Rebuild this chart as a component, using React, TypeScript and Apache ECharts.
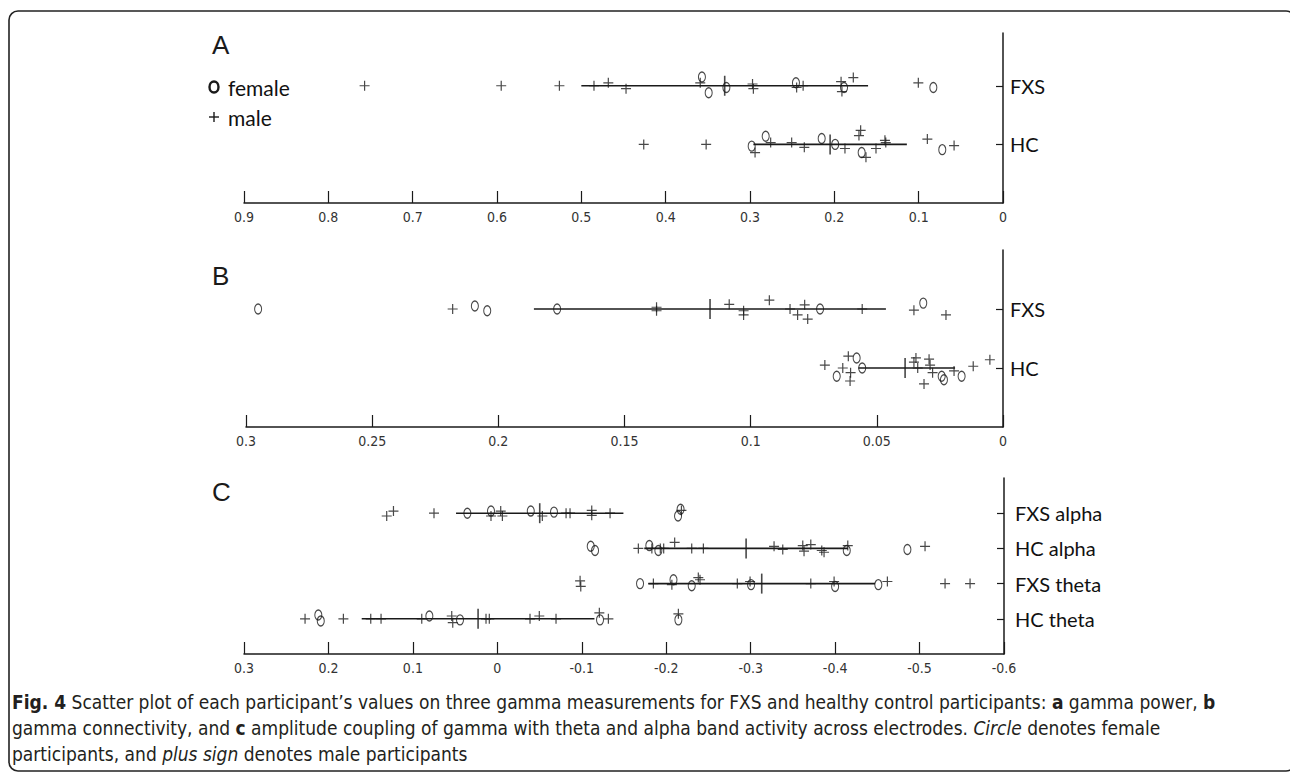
import React, { useEffect, useRef } from "react";
import * as echarts from "echarts";

// ---------- Panel A: gamma power ([value, vertical jitter in row units]) ----------
const aFxsMale = [[0.757, 0], [0.595, 0], [0.526, 0], [0.485, 0], [0.468, 0.05], [0.447, -0.05], [0.359, 0.05], [0.297, 0.03], [0.296, -0.05], [0.2447, -0.03], [0.237, 0], [0.192, 0.07], [0.191, -0.1], [0.1775, 0.14], [0.1004, 0.05]];
const aFxsFemale = [[0.357, 0.15], [0.349, -0.12], [0.328, -0.03], [0.2455, 0.05], [0.1885, -0.03], [0.0826, -0.03]];
const aFxsStats = [0.5, 0.16, 0.33]; // low, high, mean
const aHcMale = [[0.426, 0], [0.352, 0], [0.294, -0.14], [0.2755, 0.03], [0.2506, 0.03], [0.2356, -0.05], [0.1874, -0.07], [0.1708, 0.15], [0.1688, 0.24], [0.1625, -0.22], [0.1506, -0.07], [0.14, 0.07], [0.139, 0.03], [0.0897, 0.09], [0.058, -0.02]];
const aHcFemale = [[0.298, -0.03], [0.2814, 0.14], [0.215, 0.1], [0.199, 0], [0.1676, -0.14], [0.072, -0.09]];
const aHcStats = [0.296, 0.114, 0.205];

// ---------- Panel B: gamma connectivity ----------
const bFxsMale = [[0.2181, 0], [0.1373, 0.03], [0.1373, -0.03], [0.1085, 0.08], [0.1028, -0.03], [0.1028, -0.1], [0.0926, 0.15], [0.0844, 0], [0.0814, -0.1], [0.0786, 0.07], [0.0774, -0.17], [0.0558, 0], [0.0353, -0.02], [0.0226, -0.1]];
const bFxsFemale = [[0.2952, 0], [0.2093, 0.05], [0.2044, -0.03], [0.1767, 0], [0.0725, 0], [0.0316, 0.1]];
const bFxsStats = [0.1859, 0.0464, 0.1161];
const bHcMale = [[0.0706, 0.05], [0.0635, 0], [0.0613, 0.2], [0.0604, -0.08], [0.0606, -0.22], [0.0353, 0.1], [0.0345, 0.17], [0.0338, 0], [0.0313, -0.27], [0.0293, 0.15], [0.0289, 0.05], [0.0279, -0.08], [0.0194, -0.05], [0.0118, 0.03], [0.0052, 0.14]];
const bHcFemale = [[0.0659, -0.14], [0.058, 0.17], [0.0558, 0], [0.0243, -0.14], [0.0234, -0.2], [0.0164, -0.14]];
const bHcStats = [0.0573, 0.019, 0.0388];

// ---------- Panel C: amplitude coupling ----------
const cFxsAlphaMale = [[0.131, -0.08], [0.123, 0.06], [0.075, 0], [0.0075, -0.08], [-0.004, 0.06], [-0.006, -0.08], [-0.0533, -0.08], [-0.0814, 0], [-0.0861, 0], [-0.1118, 0.08], [-0.1118, -0.06], [-0.1335, 0], [-0.218, 0.08]];
const cFxsAlphaFemale = [[0.0355, 0], [0.0075, 0.06], [-0.0396, 0.06], [-0.0671, 0.03], [-0.217, 0.11], [-0.214, -0.08]];
const cFxsAlphaStats = [0.0489, -0.1493, -0.0502];
const cHcAlphaMale = [[-0.167, 0], [-0.183, 0], [-0.193, 0], [-0.197, 0], [-0.21, 0.17], [-0.2302, 0], [-0.244, 0], [-0.3277, 0.06], [-0.338, -0.03], [-0.3617, 0.08], [-0.3632, -0.08], [-0.3712, 0.11], [-0.3842, -0.06], [-0.3869, -0.11], [-0.415, 0.08], [-0.5065, 0.06]];
const cHcAlphaFemale = [[-0.1106, 0.06], [-0.1157, -0.06], [-0.18, 0.08], [-0.1907, -0.06], [-0.4138, -0.06], [-0.4856, -0.03]];
const cHcAlphaStats = [-0.174, -0.4152, -0.2946];
const cFxsThetaMale = [[-0.098, 0.08], [-0.0988, -0.08], [-0.1848, 0], [-0.2067, -0.03], [-0.238, 0.17], [-0.24, 0.11], [-0.2842, 0], [-0.2993, 0.06], [-0.3712, 0], [-0.3988, 0.06], [-0.4619, 0.06], [-0.5302, 0], [-0.5598, 0]];
const cFxsThetaFemale = [[-0.169, 0], [-0.2086, 0.11], [-0.2302, -0.06], [-0.3005, -0.03], [-0.4, -0.08], [-0.4512, -0.03]];
const cFxsThetaStats = [-0.1788, -0.4473, -0.3131];
const cHcThetaMale = [[0.2277, 0], [0.1823, 0], [0.1499, 0], [0.1377, 0], [0.0895, 0], [0.054, 0.08], [0.0528, -0.11], [0.0134, 0], [0.0095, 0], [-0.0387, 0], [-0.0497, 0.08], [-0.0695, 0], [-0.1208, 0.17], [-0.1315, 0], [-0.2144, 0.14]];
const cHcThetaFemale = [[0.212, 0.11], [0.2091, -0.06], [0.0805, 0.08], [0.0442, -0.03], [-0.1216, -0.03], [-0.2144, -0.03]];
const cHcThetaStats = [0.1606, -0.115, 0.0228];

// ---------- Row labels and axis ranges ----------
const rowsAB = ["", "HC", "FXS"];
const rowsC = ["", "HC theta", "FXS theta", "HC alpha", "FXS alpha"];
const xRangeA = [0, 0.9, 0.1];
const xRangeB = [0, 0.3, 0.05];
const xRangeC = [-0.6, 0.3, 0.1];

const captionLines = [
  "{b|Fig. 4} Scatter plot of each participant’s values on three gamma measurements for FXS and healthy control participants: {b|a} gamma power, {b|b}",
  "gamma connectivity, and {b|c} amplitude coupling of gamma with theta and alpha band activity across electrodes. {i|Circle} denotes female",
  "participants, and {i|plus sign} denotes male participants",
];

const INK = "#1a1a1a";
const NARROW = "'Liberation Sans Narrow', 'DejaVu Sans Condensed', 'Liberation Sans', sans-serif";
const HUMAN = "Lato, 'Open Sans', sans-serif";
const PLUS = "path://M5 0 L5 10 M0 5 L10 5";
const OVAL = "path://M5 0 A5 5 0 1 1 5 10 A5 5 0 1 1 5 0 Z";

type Group = { row: number; male: number[][]; female: number[][]; stats: number[] };

function groupSeries(gi: number, g: Group): any[] {
  const jit = (arr: number[][]) => arr.map((p) => [p[0], g.row + p[1]]);
  return [
    {
      type: "line",
      xAxisIndex: gi,
      yAxisIndex: gi,
      data: [[g.stats[0], g.row], [g.stats[1], g.row]],
      symbol: "none",
      lineStyle: { color: INK, width: 1.6 },
      silent: true,
      z: 2,
    },
    {
      type: "scatter",
      xAxisIndex: gi,
      yAxisIndex: gi,
      data: [[g.stats[2], g.row]],
      symbol: "rect",
      symbolSize: [1.6, 20],
      itemStyle: { color: INK },
      z: 3,
    },
    {
      type: "scatter",
      xAxisIndex: gi,
      yAxisIndex: gi,
      data: jit(g.male),
      symbol: PLUS,
      symbolSize: 10,
      itemStyle: { color: "rgba(0,0,0,0)", borderColor: INK, borderWidth: 1.2 },
      z: 4,
    },
    {
      type: "scatter",
      xAxisIndex: gi,
      yAxisIndex: gi,
      data: jit(g.female),
      symbol: OVAL,
      symbolSize: [7, 10],
      itemStyle: { color: "rgba(0,0,0,0)", borderColor: INK, borderWidth: 1.2 },
      z: 4,
    },
  ];
}

const fmtTick = (v: number) => String(Math.round(v * 100) / 100);

function makeX(gi: number, r: number[]) {
  return {
    type: "value",
    gridIndex: gi,
    inverse: true,
    min: r[0],
    max: r[1],
    interval: r[2],
    splitLine: { show: false },
    axisLine: { show: true, onZero: false, lineStyle: { color: INK, width: 1.5 } },
    axisTick: { show: true, inside: true, length: 12, lineStyle: { color: INK, width: 1.2 } },
    axisLabel: { color: "#333", fontSize: 14, fontFamily: NARROW, margin: 7, formatter: fmtTick },
  };
}

function makeY(gi: number, names: string[], max: number, margin: number, pad: number) {
  const vals = names.map((_, i) => i).filter((i) => i > 0);
  return {
    type: "value",
    gridIndex: gi,
    position: "right",
    min: 0,
    max,
    splitLine: { show: false },
    axisLine: { show: true, onZero: false, lineStyle: { color: INK, width: 1.5 } },
    axisTick: { show: true, inside: true, length: 7, customValues: vals, lineStyle: { color: INK, width: 1.2 } },
    axisLabel: {
      color: "#111",
      fontSize: 20,
      fontFamily: HUMAN,
      margin,
      padding: [pad, 0, 0, 0],
      customValues: vals,
      formatter: (v: number) => names[Math.round(v)] || "",
    },
  };
}

export default function App() {
  const ref = useRef<HTMLDivElement>(null);
  useEffect(() => {
    if (!ref.current) return;
    const chart = echarts.init(ref.current, undefined, { renderer: "svg" });
    const series = [
      ...groupSeries(0, { row: 2, male: aFxsMale, female: aFxsFemale, stats: aFxsStats }),
      ...groupSeries(0, { row: 1, male: aHcMale, female: aHcFemale, stats: aHcStats }),
      ...groupSeries(1, { row: 2, male: bFxsMale, female: bFxsFemale, stats: bFxsStats }),
      ...groupSeries(1, { row: 1, male: bHcMale, female: bHcFemale, stats: bHcStats }),
      ...groupSeries(2, { row: 4, male: cFxsAlphaMale, female: cFxsAlphaFemale, stats: cFxsAlphaStats }),
      ...groupSeries(2, { row: 3, male: cHcAlphaMale, female: cHcAlphaFemale, stats: cHcAlphaStats }),
      ...groupSeries(2, { row: 2, male: cFxsThetaMale, female: cFxsThetaFemale, stats: cFxsThetaStats }),
      ...groupSeries(2, { row: 1, male: cHcThetaMale, female: cHcThetaFemale, stats: cHcThetaStats }),
    ];
    const letter = (t: string, y: number) => ({
      type: "text",
      x: 212,
      y,
      style: { text: t, fontSize: 26, fontFamily: "'Liberation Sans', Arial, sans-serif", fill: INK, verticalAlign: "middle" },
    });
    const caption = captionLines.map((t, i) => ({
      type: "text",
      x: 12,
      y: 702 + i * 26,
      style: {
        text: t,
        fontSize: 19,
        fontFamily: NARROW,
        fill: "#231f20",
        verticalAlign: "middle",
        rich: {
          b: { fontSize: 19, fontFamily: NARROW, fontWeight: "bold", fill: "#231f20" },
          i: { fontSize: 19, fontFamily: NARROW, fontStyle: "italic", fill: "#231f20" },
        },
      },
    }));
    chart.setOption({
      animation: false,
      backgroundColor: "#ffffff",
      grid: [
        { left: 244, right: 287, top: 33, height: 170 },
        { left: 246, right: 287, top: 250, height: 177 },
        { left: 244, right: 286, top: 478, height: 176 },
      ],
      xAxis: [makeX(0, xRangeA), makeX(1, xRangeB), makeX(2, xRangeC)],
      yAxis: [makeY(0, rowsAB, 2.9, 7, 0), makeY(1, rowsAB, 3, 7, 0), makeY(2, rowsC, 5, 11, 8)],
      series,
      graphic: [
        {
          type: "rect",
          shape: { x: 9, y: 11, width: 1286, height: 760, r: 9 },
          style: { fill: "none", stroke: "#222", lineWidth: 1.6 },
          silent: true,
        },
        letter("A", 45),
        letter("B", 276),
        letter("C", 492),
        { type: "ellipse", shape: { cx: 214, cy: 87, rx: 4.5, ry: 5.5 }, style: { fill: "none", stroke: INK, lineWidth: 2.4 } },
        { type: "text", x: 228, y: 87, style: { text: "female", fontSize: 21, fontFamily: HUMAN, fill: "#111", verticalAlign: "middle" } },
        { type: "line", shape: { x1: 214, y1: 112, x2: 214, y2: 122 }, style: { stroke: INK, lineWidth: 1.4 } },
        { type: "line", shape: { x1: 209, y1: 117, x2: 219, y2: 117 }, style: { stroke: INK, lineWidth: 1.4 } },
        { type: "text", x: 228, y: 117, style: { text: "male", fontSize: 21, fontFamily: HUMAN, fill: "#111", verticalAlign: "middle" } },
        ...caption,
      ],
    });
    return () => chart.dispose();
  }, []);
  return <div ref={ref} style={{ position: "absolute", left: 0, top: 0, width: 1290, height: 772 }} />;
}
